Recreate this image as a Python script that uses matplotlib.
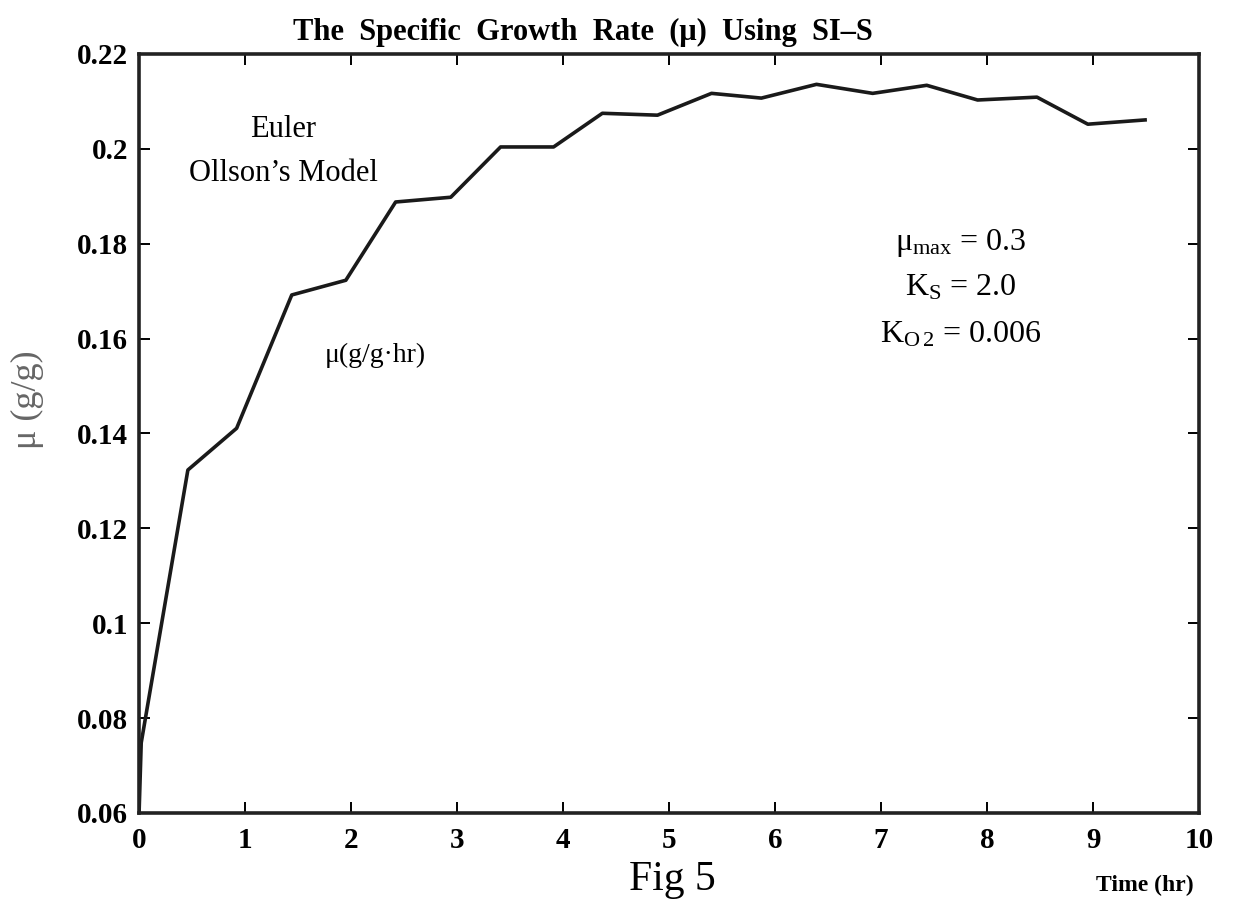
import matplotlib
matplotlib.use("Agg")
import matplotlib.pyplot as plt

# specific growth rate
time_hr = [0.0, 0.02, 0.46, 0.92, 1.44, 1.95, 2.42, 2.94, 3.41, 3.91, 4.37,
           4.89, 5.40, 5.87, 6.39, 6.92, 7.43, 7.91, 8.47, 8.95, 9.49]
mu = [0.0602, 0.0748, 0.1323, 0.1411, 0.1692, 0.1723, 0.1888, 0.1898, 0.2004,
      0.2004, 0.2075, 0.2071, 0.2117, 0.2107, 0.2136, 0.2117, 0.2134, 0.2103,
      0.2109, 0.2052, 0.2061]

xticks = list(range(0, 11))
yticks = [0.06, 0.08, 0.1, 0.12, 0.14, 0.16, 0.18, 0.2, 0.22]
ylabels = ["0.06", "0.08", "0.1", "0.12", "0.14", "0.16", "0.18", "0.2", "0.22"]

plt.rcParams['font.family'] = ['Liberation Serif', 'DejaVu Serif']
plt.rcParams['mathtext.fontset'] = 'custom'
plt.rcParams['mathtext.rm'] = 'Liberation Serif'
plt.rcParams['mathtext.it'] = 'Liberation Serif:italic'

fig = plt.figure(figsize=(12.42, 9.15), dpi=100)
ax = fig.add_axes([0.112, 0.1115, 0.8535, 0.8295])

ax.plot(time_hr, mu, color="#1a1a1a", lw=2.6)

ax.set_xlim(0, 10)
ax.set_ylim(0.06, 0.22)
ax.set_xticks(xticks)
ax.set_xticklabels([str(v) for v in xticks], fontsize=21, fontweight="bold")
ax.set_yticks(yticks)
ax.set_yticklabels(ylabels, fontsize=21, fontweight="bold")
ax.tick_params(direction="in", length=8, width=1.4, top=True, right=True)
ax.tick_params(axis="x", pad=10)
ax.tick_params(axis="y", pad=8)
for s in ax.spines.values():
    s.set_linewidth(2.6)
    s.set_color("#222222")

fig.text(0.469, 0.965, "The  Specific  Growth  Rate  (\u03bc)  Using  SI\u2013S",
         ha="center", va="center", fontsize=22, fontweight="bold")
fig.text(0.0225, 0.563, "\u03bc (g/g)", rotation=90, ha="center", va="center",
         fontsize=26, color="#666666")
fig.text(0.541, 0.038, "Fig 5", ha="center", va="center", fontsize=30)
fig.text(0.922, 0.032, "Time (hr)", ha="center", va="center", fontsize=17,
         fontweight="bold")

ax.text(0.136, 0.900, "Euler", transform=ax.transAxes, ha="center", va="center",
        fontsize=22)
ax.text(0.136, 0.843, "Ollson\u2019s Model", transform=ax.transAxes,
        ha="center", va="center", fontsize=22)
ax.text(0.223, 0.603, "\u03bc(g/g\u00b7hr)", transform=ax.transAxes,
        ha="center", va="center", fontsize=20)
ax.text(0.775, 0.751, "$\\mathrm{\u03bc_{max}}$ = 0.3", transform=ax.transAxes,
        ha="center", va="center", fontsize=23)
ax.text(0.775, 0.692, "$\\mathrm{K_S}$ = 2.0", transform=ax.transAxes,
        ha="center", va="center", fontsize=23)
ax.text(0.775, 0.630, "$\\mathrm{K_{O\\,2}}$ = 0.006", transform=ax.transAxes,
        ha="center", va="center", fontsize=23)

fig.savefig("out.png", dpi=100)
